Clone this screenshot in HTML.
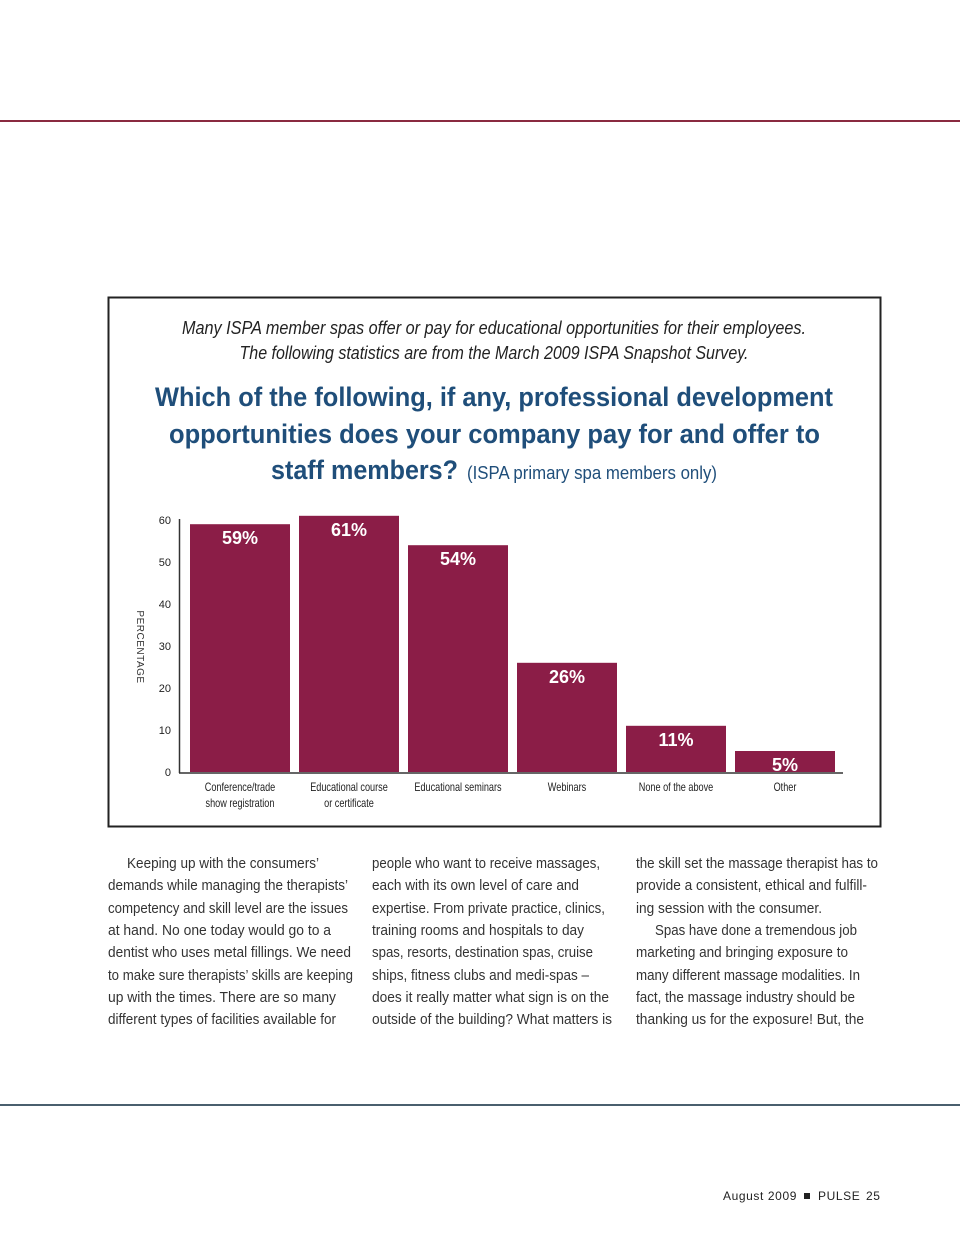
<!DOCTYPE html>
<html><head><meta charset="utf-8"><style>
html,body{margin:0;padding:0;background:#fff;}
svg{display:block;}
.body{font-family:"Liberation Sans Narrow","Liberation Sans",sans-serif;font-size:15px;fill:#333;}
</style></head><body>
<svg id="page" width="960" height="1247" viewBox="0 0 960 1247" xmlns="http://www.w3.org/2000/svg">
<rect x="0" y="0" width="960" height="1247" fill="#fff"/>
<rect x="0" y="120" width="960" height="2" fill="#8a2a40"/>
<rect x="108.5" y="297.5" width="772" height="529" fill="none" stroke="#222" stroke-width="2"/>
<g font-family="'Liberation Sans Narrow','Liberation Sans',sans-serif" font-style="italic" font-size="18" fill="#222" text-anchor="middle">
<text x="494" y="334" textLength="624" lengthAdjust="spacingAndGlyphs">Many ISPA member spas offer or pay for educational opportunities for their employees.</text>
<text x="494" y="359" textLength="509" lengthAdjust="spacingAndGlyphs">The following statistics are from the March 2009 ISPA Snapshot Survey.</text>
</g>
<g font-family="'Liberation Sans',sans-serif" font-weight="bold" font-size="27" fill="#1f4e7a">
<text x="155" y="406" textLength="678" lengthAdjust="spacingAndGlyphs">Which of the following, if any, professional development</text>
<text x="169" y="443" textLength="651" lengthAdjust="spacingAndGlyphs">opportunities does your company pay for and offer to</text>
<text x="271" y="479" textLength="187" lengthAdjust="spacingAndGlyphs">staff members?</text>
<text x="467" y="479" font-weight="normal" font-size="18" textLength="250" lengthAdjust="spacingAndGlyphs">(ISPA primary spa members only)</text>
</g>
<g id="chart"></g>
<g class="body">
<g>
<text x="127" y="868" textLength="192" lengthAdjust="spacingAndGlyphs">Keeping up with the consumers’</text>
<text x="108" y="890" textLength="240" lengthAdjust="spacingAndGlyphs">demands while managing the therapists’</text>
<text x="108" y="913" textLength="240" lengthAdjust="spacingAndGlyphs">competency and skill level are the issues</text>
<text x="108" y="935" textLength="223" lengthAdjust="spacingAndGlyphs">at hand. No one today would go to a</text>
<text x="108" y="957" textLength="243" lengthAdjust="spacingAndGlyphs">dentist who uses metal fillings. We need</text>
<text x="108" y="980" textLength="245" lengthAdjust="spacingAndGlyphs">to make sure therapists’ skills are keeping</text>
<text x="108" y="1002" textLength="228" lengthAdjust="spacingAndGlyphs">up with the times. There are so many</text>
<text x="108" y="1024" textLength="228" lengthAdjust="spacingAndGlyphs">different types of facilities available for</text>
</g>
<g>
<text x="372" y="868" textLength="228" lengthAdjust="spacingAndGlyphs">people who want to receive massages,</text>
<text x="372" y="890" textLength="207" lengthAdjust="spacingAndGlyphs">each with its own level of care and</text>
<text x="372" y="913" textLength="233" lengthAdjust="spacingAndGlyphs">expertise. From private practice, clinics,</text>
<text x="372" y="935" textLength="212" lengthAdjust="spacingAndGlyphs">training rooms and hospitals to day</text>
<text x="372" y="957" textLength="221" lengthAdjust="spacingAndGlyphs">spas, resorts, destination spas, cruise</text>
<text x="372" y="980" textLength="217" lengthAdjust="spacingAndGlyphs">ships, fitness clubs and medi-spas –</text>
<text x="372" y="1002" textLength="237" lengthAdjust="spacingAndGlyphs">does it really matter what sign is on the</text>
<text x="372" y="1024" textLength="240" lengthAdjust="spacingAndGlyphs">outside of the building? What matters is</text>
</g>
<g>
<text x="636" y="868" textLength="242" lengthAdjust="spacingAndGlyphs">the skill set the massage therapist has to</text>
<text x="636" y="890" textLength="231" lengthAdjust="spacingAndGlyphs">provide a consistent, ethical and fulfill-</text>
<text x="636" y="913" textLength="186" lengthAdjust="spacingAndGlyphs">ing session with the consumer.</text>
<text x="655" y="935" textLength="202" lengthAdjust="spacingAndGlyphs">Spas have done a tremendous job</text>
<text x="636" y="957" textLength="212" lengthAdjust="spacingAndGlyphs">marketing and bringing exposure to</text>
<text x="636" y="980" textLength="224" lengthAdjust="spacingAndGlyphs">many different massage modalities. In</text>
<text x="636" y="1002" textLength="219" lengthAdjust="spacingAndGlyphs">fact, the massage industry should be</text>
<text x="636" y="1024" textLength="228" lengthAdjust="spacingAndGlyphs">thanking us for the exposure! But, the</text>
</g>
</g>
<rect x="0" y="1104" width="960" height="2" fill="#4a5f6e"/>
<g font-family="'Liberation Sans',sans-serif" font-size="12" fill="#222">
<text x="723" y="1200" letter-spacing="0.6">August 2009</text>
<rect x="804" y="1193" width="6" height="6" fill="#222"/>
<text x="818" y="1200" letter-spacing="0.6">PULSE</text>
<text x="866" y="1200" letter-spacing="0.6">25</text>
</g>
</svg>
<script>
const categories = ["Conference/trade|show registration","Educational course|or certificate","Educational seminars","Webinars","None of the above","Other"];
const values = [59, 61, 54, 26, 11, 5];
const valueLabels = ["59%","61%","54%","26%","11%","5%"];
const yTicks = [0, 10, 20, 30, 40, 50, 60];

const NS = "http://www.w3.org/2000/svg";
const g = document.getElementById("chart");
const y0 = 772, pxPerUnit = 4.2;
function yScale(v){ return y0 - v * pxPerUnit; }
const bandStart = 190, bandStep = 109, barW = 100;
function xScale(i){ return bandStart + i * bandStep; }
function mk(tag, attrs, txt){
  const e = document.createElementNS(NS, tag);
  for (const k in attrs) e.setAttribute(k, attrs[k]);
  if (txt !== undefined) e.textContent = txt;
  g.appendChild(e);
  return e;
}
let ya = mk("line",{x1:179.5,y1:519,x2:179.5,y2:y0+1,stroke:"#333","stroke-width":1.5});


yTicks.forEach(function(t){
  const tl = mk("text",{x:171,y:yScale(t)+4,"text-anchor":"end","font-family":"'Liberation Sans',sans-serif","font-size":11,fill:"#222"}, String(t));
  
  
});
const yt = mk("text",{x:0,y:0,transform:"translate(137,647) rotate(90)","text-anchor":"middle","font-family":"'Liberation Sans',sans-serif","font-size":10,fill:"#333","letter-spacing":"0.5"},"PERCENTAGE");


values.forEach(function(v,i){
  const x = xScale(i);
  const r = mk("rect",{x:x,y:yScale(v),width:barW,height:y0-yScale(v),fill:"#8b1d47"});
  
  
  const vl = mk("text",{x:x+barW/2,y:yScale(v)+20,"text-anchor":"middle","font-family":"'Liberation Sans',sans-serif","font-weight":"bold","font-size":18,fill:"#fff"}, valueLabels[i]);
  
  
  const parts = categories[i].split("|");
  parts.forEach(function(p,j){
    const cl = mk("text",{x:x+barW/2,y:y0+19+j*16,"text-anchor":"middle","font-family":"'Liberation Sans',sans-serif","font-size":12,fill:"#222"}, p);
    
    
    const w = cl.getComputedTextLength();
    cl.setAttribute('textLength', (w * 0.76).toFixed(1));
    cl.setAttribute('lengthAdjust', 'spacingAndGlyphs');
  });
});
const xa = mk("line",{x1:179,y1:y0+1,x2:843,y2:y0+1,stroke:"#333","stroke-width":1.5});


</script>
</body></html>
